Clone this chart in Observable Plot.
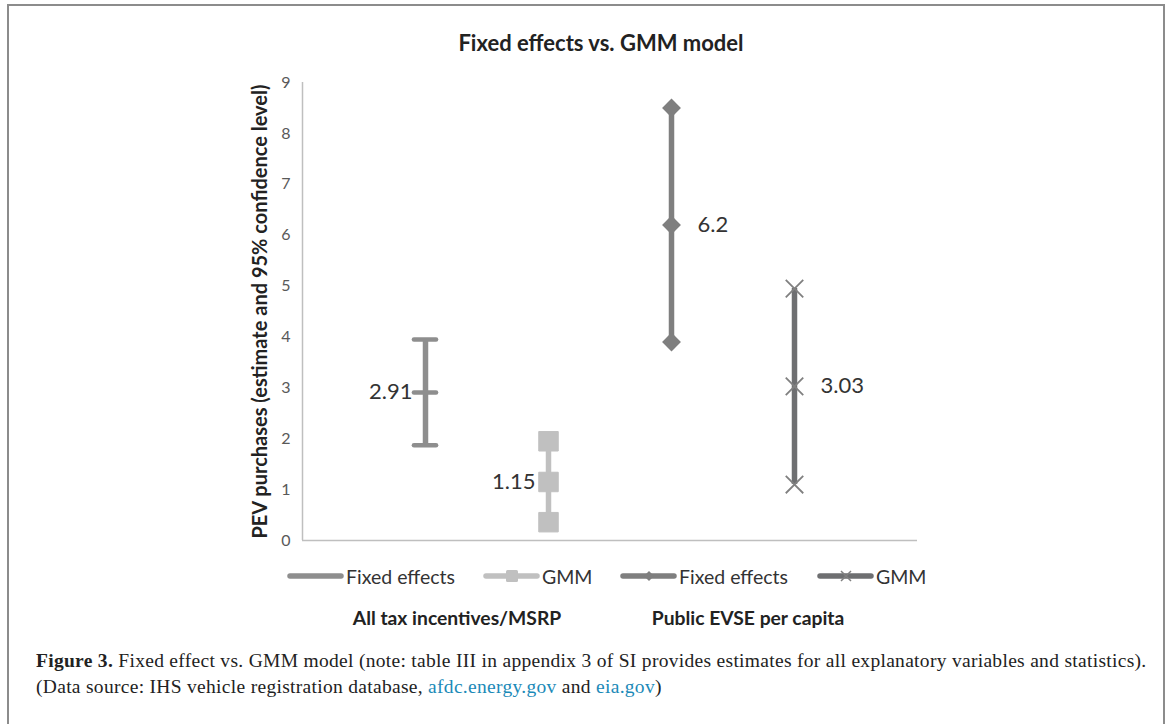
<!DOCTYPE html>
<html>
<head>
<meta charset="utf-8">
<script src="https://cdn.jsdelivr.net/npm/d3@7"></script>
<script src="https://cdn.jsdelivr.net/npm/@observablehq/plot@0.6"></script>
<style>
  html, body { margin: 0; padding: 0; background: #fff; }
  #wrap { position: relative; width: 1171px; height: 724px; overflow: hidden; font-family: Lato, "Open Sans", sans-serif; }
  #frame { position: absolute; left: 7px; top: 4px; width: 1154px; height: 760px; border: 2px solid #8c8c8c; }
  #title { position: absolute; top: 29px; left: 301px; width: 600px; text-align: center; font-weight: bold; font-size: 22px; color: #222; }
  #chart { position: absolute; left: 0; top: 60px; }
  #legend { position: absolute; top: 563px; left: 0; width: 1171px; height: 26px; font-size: 19.5px; color: #333; }
  .item { position: absolute; display: flex; align-items: center; white-space: nowrap; }
  .item svg { margin-right: 2px; }
  #cats { position: absolute; top: 606px; left: 0; width: 1171px; }
  .cat { position: absolute; transform: translateX(-50%); font-weight: bold; font-size: 19.3px; color: #222; white-space: nowrap; }
  #caption { position: absolute; left: 36px; top: 648px; font-family: "Liberation Serif", "DejaVu Serif", serif; font-size: 19.5px; line-height: 26px; color: #222; letter-spacing: 0.3px; white-space: nowrap; }
  #caption a { color: #1b8ab8; text-decoration: none; }
  g[aria-label="y-axis label"] text { font-weight: bold; font-size: 20px; fill: #222; }
</style>
</head>
<body>
<div id="wrap">
  <div id="frame"></div>
  <div id="title"></div>
  <div id="chart"></div>
  <div id="legend"></div>
  <div id="cats"></div>
  <div id="caption"></div>
</div>
<script>
// ---- data ----
const seriesNames = ["Fixed effects", "GMM", "Fixed effects", "GMM"];
const groupNames = ["All tax incentives/MSRP", "Public EVSE per capita"];
const seriesGroup = [0, 0, 1, 1];
const estimates = [2.91, 1.15, 6.2, 3.03];
const lows = [1.87, 0.36, 3.9, 1.1];
const highs = [3.95, 1.95, 8.5, 4.95];
const valueLabels = ["2.91", "1.15", "6.2", "3.03"];
const markerTypes = ["cap", "square", "diamond2", "times"];
const yTicks = [0, 1, 2, 3, 4, 5, 6, 7, 8, 9];
const titleText = "Fixed effects vs. GMM model";
const yLabel = "PEV purchases (estimate and 95% confidence level)";

// ---- styles ----
const colors = ["#8e8e8e", "#c0c0c0", "#7f7f7f", "#6e6f71"];
const markerColors = ["#8e8e8e", "#c0c0c0", "#7f7f7f", "#808080"];

const rows = estimates.map((e, i) => ({
  pos: i + 1, est: e, low: lows[i], high: highs[i], label: valueLabels[i],
  color: colors[i], mcolor: markerColors[i], type: markerTypes[i]
}));
const pts = rows.flatMap(r => [r.low, r.est, r.high].map(v => ({...r, v})));

const W = 1171, H = 500;
const chart = Plot.plot({
  width: W, height: H,
  marginLeft: 302, marginRight: 254, marginTop: 22, marginBottom: 20,
  style: { fontFamily: "Lato, 'Open Sans', sans-serif", fontSize: "16px", color: "#595959", background: "transparent", overflow: "visible" },
  x: { domain: [0, 5], axis: null },
  y: { domain: [0, 9], ticks: yTicks, tickFormat: d => String(d), label: yLabel },
  marks: [
    Plot.axisY({ ticks: yTicks, tickSize: 0, tickPadding: 12, fontSize: 16, label: yLabel, labelAnchor: "center", labelArrow: "none", labelOffset: 50 }),
    Plot.ruleX([0], { stroke: "#bfbfbf", strokeWidth: 1.5 }),
    Plot.ruleY([0], { stroke: "#bfbfbf", strokeWidth: 1.5 }),
    Plot.ruleX(rows, { x: "pos", y1: "low", y2: "high", stroke: "color", strokeWidth: 5.5 }),
    Plot.ruleY(pts.filter(d => d.type === "cap"), { y: "v", x1: d => d.pos - 0.09, x2: d => d.pos + 0.09, stroke: "mcolor", strokeWidth: 4.5, strokeLinecap: "round" }),
    Plot.dot(pts.filter(d => d.type === "square"), { x: "pos", y: "v", symbol: "square", r: 11, fill: "mcolor", stroke: "mcolor", strokeWidth: 1, strokeLinejoin: "round" }),
    Plot.dot(pts.filter(d => d.type === "diamond2"), { x: "pos", y: "v", symbol: "diamond2", r: 8.5, fill: "mcolor" }),
    Plot.dot(pts.filter(d => d.type === "times"), { x: "pos", y: "v", symbol: "times", r: 8, stroke: "mcolor", strokeWidth: 1.8 }),
    Plot.text(rows.filter(d => d.pos <= 2), { x: "pos", y: "est", text: "label", textAnchor: "end", dx: -13, fontSize: 22, fill: "#333" }),
    Plot.text(rows.filter(d => d.pos > 2), { x: "pos", y: "est", text: "label", textAnchor: "start", dx: 26, fontSize: 22, fill: "#333" })
  ]
});
document.getElementById("chart").appendChild(chart);
document.getElementById("title").textContent = titleText;

// legend
const legend = document.getElementById("legend");
const legendLeft = [287, 483, 620, 817];
rows.forEach((r, i) => {
  const item = document.createElement("div");
  item.className = "item";
  item.style.left = legendLeft[i] + "px";
  const ns = "http://www.w3.org/2000/svg";
  const s = document.createElementNS(ns, "svg");
  s.setAttribute("width", 57); s.setAttribute("height", 26);
  const ln = document.createElementNS(ns, "line");
  ln.setAttribute("x1", 3); ln.setAttribute("x2", 54); ln.setAttribute("y1", 13); ln.setAttribute("y2", 13);
  ln.setAttribute("stroke", r.color); ln.setAttribute("stroke-width", 5.5); ln.setAttribute("stroke-linecap", "round");
  s.appendChild(ln);
  if (r.type === "square") {
    const m = document.createElementNS(ns, "rect");
    m.setAttribute("x", 23); m.setAttribute("y", 7); m.setAttribute("width", 12); m.setAttribute("height", 12); m.setAttribute("rx", 1.5);
    m.setAttribute("fill", r.mcolor); s.appendChild(m);
  } else if (r.type === "diamond2") {
    const m = document.createElementNS(ns, "path");
    m.setAttribute("d", "M29,8 L34,13 L29,18 L24,13 Z"); m.setAttribute("fill", r.mcolor); s.appendChild(m);
  } else if (r.type === "times") {
    const m = document.createElementNS(ns, "path");
    m.setAttribute("d", "M24,8 L34,18 M34,8 L24,18"); m.setAttribute("stroke", r.mcolor); m.setAttribute("stroke-width", 1.5); s.appendChild(m);
  }
  item.appendChild(s);
  const t = document.createElement("span");
  t.textContent = seriesNames[i];
  item.appendChild(t);
  legend.appendChild(item);
});

// category labels
const cats = document.getElementById("cats");
const catCenters = [457, 748];
groupNames.forEach((g, i) => {
  const d = document.createElement("div");
  d.className = "cat";
  d.style.left = catCenters[i] + "px";
  d.textContent = g;
  cats.appendChild(d);
});

document.getElementById("caption").innerHTML =
  '<b>Figure 3.</b> Fixed effect vs. GMM model (note: table III in appendix 3 of SI provides estimates for all explanatory variables and statistics).<br>' +
  '(Data source: IHS vehicle registration database, <a>afdc.energy.gov</a> and <a>eia.gov</a>)';
</script>
</body>
</html>
